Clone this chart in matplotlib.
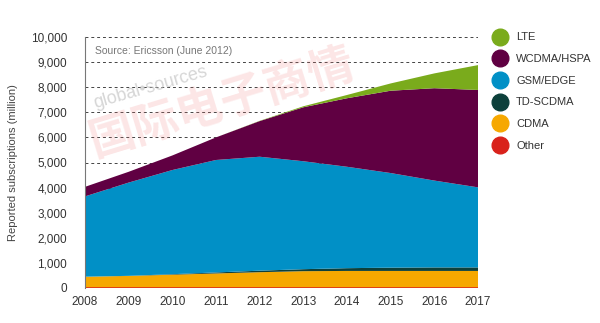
import matplotlib.pyplot as plt
from matplotlib.lines import Line2D
from matplotlib.ticker import FuncFormatter

plt.rcParams['font.family'] = ['Liberation Sans', 'DejaVu Sans']

# Mobile subscriptions by technology, millions
years = [2008, 2009, 2010, 2011, 2012, 2013, 2014, 2015, 2016, 2017]
other = [30, 30, 30, 30, 30, 30, 30, 30, 30, 30]
cdma = [420, 450, 500, 550, 600, 640, 650, 650, 650, 650]
td_scdma = [0, 5, 20, 40, 60, 80, 110, 130, 140, 140]
gsm_edge = [3200, 3715, 4150, 4480, 4540, 4300, 4040, 3770, 3460, 3190]
wcdma_hspa = [380, 430, 580, 900, 1420, 2150, 2730, 3280, 3680, 3880]
lte = [0, 0, 0, 0, 10, 40, 130, 290, 590, 990]

series_names = ['LTE', 'WCDMA/HSPA', 'GSM/EDGE', 'TD-SCDMA', 'CDMA', 'Other']
colors = {
    'LTE': '#7aab1c',
    'WCDMA/HSPA': '#600042',
    'GSM/EDGE': '#0190c6',
    'TD-SCDMA': '#0d403b',
    'CDMA': '#f6a800',
    'Other': '#d9221b',
}

fig = plt.figure(figsize=(6, 3.23), dpi=100)
ax = fig.add_axes([85 / 600, 35 / 323, 393 / 600, 251 / 323])

stack = [other, cdma, td_scdma, gsm_edge, wcdma_hspa, lte]
stack_names = ['Other', 'CDMA', 'TD-SCDMA', 'GSM/EDGE', 'WCDMA/HSPA', 'LTE']
ax.stackplot(years, *stack, colors=[colors[n] for n in stack_names],
             linewidth=0, zorder=2)

ax.set_xlim(2008, 2017)
ax.set_ylim(0, 10000)
ax.set_xticks(years)
ax.set_yticks(range(0, 10001, 1000))
ax.yaxis.set_major_formatter(FuncFormatter(lambda v, p: f'{int(v):,}'))
ax.tick_params(length=0, labelsize=8.5, colors='#333333', pad=6)
ax.tick_params(axis='y', pad=13)

ax.grid(axis='y', linestyle=(0, (3, 3)), color='#444444', linewidth=0.7, zorder=1)
ax.set_axisbelow(True)
for side in ['top', 'right', 'bottom']:
    ax.spines[side].set_visible(False)
ax.spines['left'].set_color('#777777')
ax.spines['left'].set_linewidth(0.8)

ax.set_ylabel('Reported subscriptions (million)', fontsize=8, color='#444444', labelpad=9)

ax.text(0.025, 0.965, 'Source: Ericsson (June 2012)', transform=ax.transAxes,
        fontsize=7.5, color='#777777', va='top', ha='left')

# watermark
fig.text(151 / 600, 1 - 88 / 323, 'global\u2022sources', fontsize=13, color='#bbbbbb',
         alpha=0.6, rotation=16, ha='center', va='center', rotation_mode='anchor', zorder=5)
fig.text(222 / 600, 1 - 103 / 323, '国际电子商情', fontsize=33, fontweight='bold',
         color='#f08080', alpha=0.2, rotation=17, ha='center', va='center',
         rotation_mode='anchor', family=['Noto Sans CJK SC', 'DejaVu Sans'], zorder=5)

handles = [Line2D([0], [0], marker='o', linestyle='none', markersize=12,
                  markerfacecolor=colors[n], markeredgecolor=colors[n]) for n in series_names]
fig.legend(handles, series_names, loc='upper left', bbox_to_anchor=(484 / 600, 1 - 28 / 323),
           frameon=False, fontsize=8, handletextpad=0.5, labelspacing=1.05,
           labelcolor='#333333', borderaxespad=0)

fig.savefig('out.png', dpi=100)
